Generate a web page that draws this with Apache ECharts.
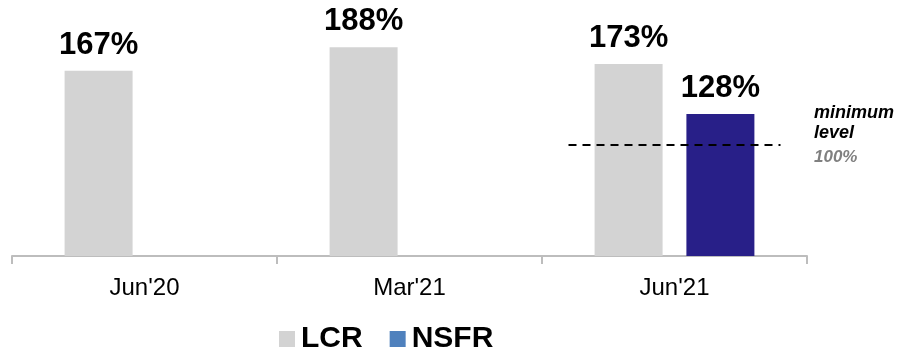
<!DOCTYPE html>
<html>
<head>
<meta charset="utf-8">
<script src="https://cdn.jsdelivr.net/npm/echarts@6/dist/echarts.min.js"></script>
<style>
  html, body { margin: 0; padding: 0; background: #ffffff; }
  #chart { width: 900px; height: 348px; }
</style>
</head>
<body>
<div id="chart"></div>
<script>
// Liquidity ratios by reporting date
const categories = ["Jun'20", "Mar'21", "Jun'21"];
const lcrValues = [167, 188, 173];
const nsfrValues = [null, null, 128];
// Regulatory minimum drawn as a dashed reference over the last period
const minimumLevel = 100;
const minimumSpan = [2.1, 2.9];

const FONT = "'Liberation Sans', Arial, Helvetica, sans-serif";
const LCR_COLOR = '#D3D3D3';
const NSFR_COLOR = '#281F88';
const NSFR_LEGEND_COLOR = '#4F81BD';
const AXIS_COLOR = '#BDBDBD';

const chart = echarts.init(document.getElementById('chart'), null, { renderer: 'canvas' });

const barLabel = {
  show: true,
  position: 'top',
  distance: 10,
  formatter: p => p.value + '%',
  fontFamily: FONT,
  fontSize: 31,
  fontWeight: 'bold',
  color: '#000000'
};

chart.setOption({
  animation: false,
  backgroundColor: '#ffffff',
  grid: { left: 12, right: 93, top: 34, bottom: 92, containLabel: false },
  legend: {
    left: 274,
    top: 319,
    itemWidth: 16,
    itemHeight: 16,
    itemGap: 27,
    icon: 'rect',
    textStyle: { fontFamily: FONT, fontSize: 30, fontWeight: 'bold', color: '#000000', padding: [0, 0, 0, 1] },
    data: [
      { name: 'LCR', itemStyle: { color: LCR_COLOR } },
      { name: 'NSFR', itemStyle: { color: NSFR_LEGEND_COLOR } }
    ]
  },
  xAxis: [
    {
      type: 'category',
      data: categories,
      boundaryGap: true,
      axisLine: { show: true, lineStyle: { color: AXIS_COLOR, width: 2 } },
      axisTick: { show: true, length: 8, lineStyle: { color: AXIS_COLOR, width: 2 } },
      axisLabel: { margin: 20, fontFamily: FONT, fontSize: 24, color: '#000000' }
    },
    {
      type: 'value',
      min: 0,
      max: categories.length,
      show: false
    }
  ],
  yAxis: {
    type: 'value',
    min: 0,
    max: 200,
    show: false,
    splitLine: { show: false }
  },
  series: [
    {
      name: 'LCR',
      type: 'bar',
      data: lcrValues,
      barWidth: 68,
      barGap: '35%',
      itemStyle: { color: LCR_COLOR },
      label: barLabel
    },
    {
      name: 'NSFR',
      type: 'bar',
      data: nsfrValues,
      barWidth: 68,
      barGap: '35%',
      itemStyle: { color: NSFR_COLOR },
      label: barLabel
    },
    {
      name: 'minimum',
      type: 'line',
      xAxisIndex: 1,
      yAxisIndex: 0,
      data: [[minimumSpan[0], minimumLevel], [minimumSpan[1], minimumLevel]],
      symbol: 'none',
      silent: true,
      lineStyle: { color: '#000000', width: 2, type: [8, 6] },
      z: 5
    }
  ],
  graphic: [
    {
      type: 'text',
      left: 814,
      top: 103,
      style: {
        text: 'minimum\nlevel',
        font: 'italic bold 18px ' + FONT,
        lineHeight: 20,
        fill: '#000000'
      }
    },
    {
      type: 'text',
      left: 814,
      top: 149,
      style: {
        text: minimumLevel + '%',
        font: 'italic bold 17px ' + FONT,
        fill: '#808080'
      }
    }
  ]
});
</script>
</body>
</html>
